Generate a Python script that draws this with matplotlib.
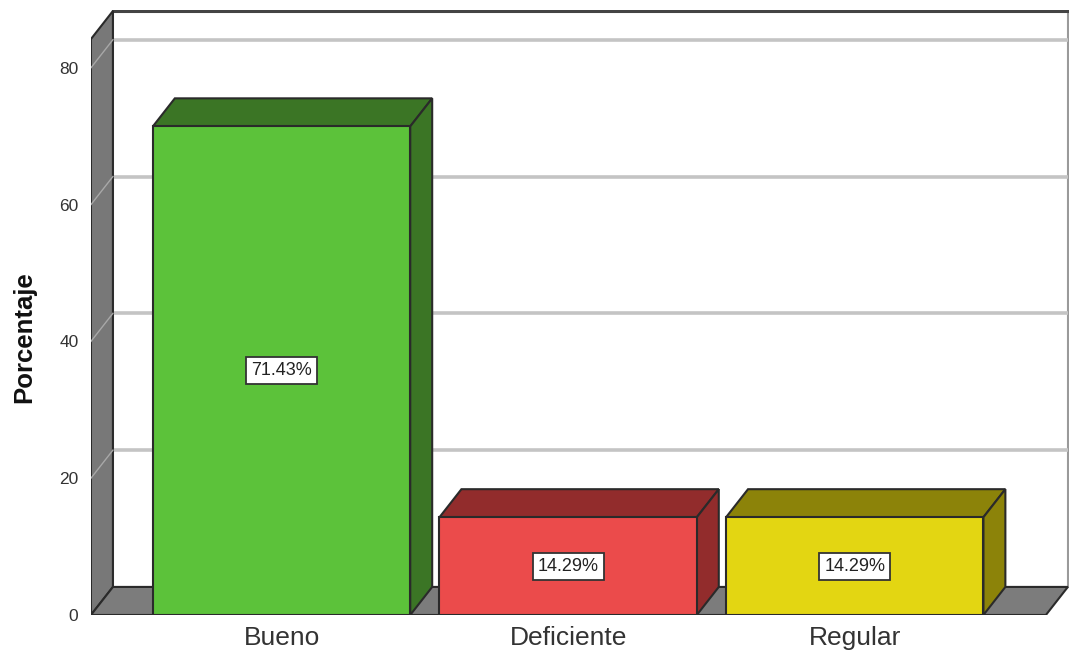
import matplotlib
matplotlib.use("Agg")
import matplotlib.pyplot as plt
from matplotlib.patches import Polygon, Rectangle

plt.rcParams["font.family"] = ["Liberation Sans", "DejaVu Sans"]

# data
categories = ["Bueno", "Deficiente", "Regular"]
percent = [71.43, 14.29, 14.29]
labels = ["71.43%", "14.29%", "14.29%"]
y_ticks = [0, 20, 40, 60, 80]

# colours: front face, top/side face
front_colors = ["#5CC23A", "#EB4B4B", "#E3D612"]
dark_colors = ["#3B7525", "#922C2C", "#8C8309"]

# 3d look
X0, X1 = -0.665, 2.667      # floor front edge
DX, DY = 0.0766, 4.1        # depth offset
WALL_TOP = 84.2
BAR_W = 0.898

fig = plt.figure(figsize=(10.69, 6.60), dpi=100)
ax = fig.add_axes([0.0851, 0.0682, 0.9149, 0.9167])
ax.set_xlim(X0, X1 + DX + 0.004)
ax.set_ylim(0, 88.45)
for s in ax.spines.values():
    s.set_visible(False)

edge = "#2a2a2a"

# back wall
ax.add_patch(Rectangle((X0 + DX, DY), X1 - X0, WALL_TOP, facecolor="white",
                       edgecolor="#9a9a9a", lw=1.5, zorder=0))
ax.plot([X0 + DX, X1 + DX], [WALL_TOP + DY] * 2, color="#444444", lw=2.2, zorder=1)

# gridlines on back wall + left wall
for v in y_ticks[1:]:
    ax.plot([X0 + DX, X1 + DX], [v + DY, v + DY], color="#c4c4c4", lw=2.6,
            solid_capstyle="butt", zorder=1)

# left wall
ax.add_patch(Polygon([(X0, 0), (X0, WALL_TOP), (X0 + DX, WALL_TOP + DY), (X0 + DX, DY)],
                     closed=True, facecolor="#787878", edgecolor=edge, lw=1.5, zorder=2))
for v in y_ticks[1:]:
    ax.plot([X0, X0 + DX], [v, v + DY], color="#a8a8a8", lw=1.0, zorder=3)

# floor
ax.add_patch(Polygon([(X0, 0), (X1, 0), (X1 + DX, DY), (X0 + DX, DY)],
                     closed=True, facecolor="#7c7c7c", edgecolor=edge, lw=1.5, zorder=2))

# bars
xs = list(range(len(categories)))
ax.bar(xs, percent, width=BAR_W, color=front_colors, edgecolor=edge, lw=1.5, zorder=5)
for x, h, dc in zip(xs, percent, dark_colors):
    l, r = x - BAR_W / 2, x + BAR_W / 2
    ax.add_patch(Polygon([(l, h), (r, h), (r + DX, h + DY), (l + DX, h + DY)],
                         closed=True, facecolor=dc, edgecolor=edge, lw=1.5, zorder=4))
    ax.add_patch(Polygon([(r, 0), (r, h), (r + DX, h + DY), (r + DX, DY)],
                         closed=True, facecolor=dc, edgecolor=edge, lw=1.5, zorder=4))

for x, h, t in zip(xs, percent, labels):
    ax.text(x, h / 2, t, ha="center", va="center", fontsize=13, color="#222222",
            zorder=7, bbox=dict(boxstyle="square,pad=0.28", facecolor="white",
                                edgecolor="#333333", lw=1.3))

ax.set_yticks(y_ticks)
ax.set_yticklabels([str(v) for v in y_ticks], fontsize=12.5, color="#333333")
ax.set_xticks(xs)
ax.set_xticklabels(categories, fontsize=19, color="#333333")
ax.tick_params(axis="y", length=0, pad=9)
ax.tick_params(axis="x", length=0, pad=8)
ax.set_ylabel("Porcentaje", fontsize=18.5, fontweight="bold", color="#111111")
ax.yaxis.set_label_coords(-0.056, 0.46)

fig.savefig("out.png", dpi=100)
